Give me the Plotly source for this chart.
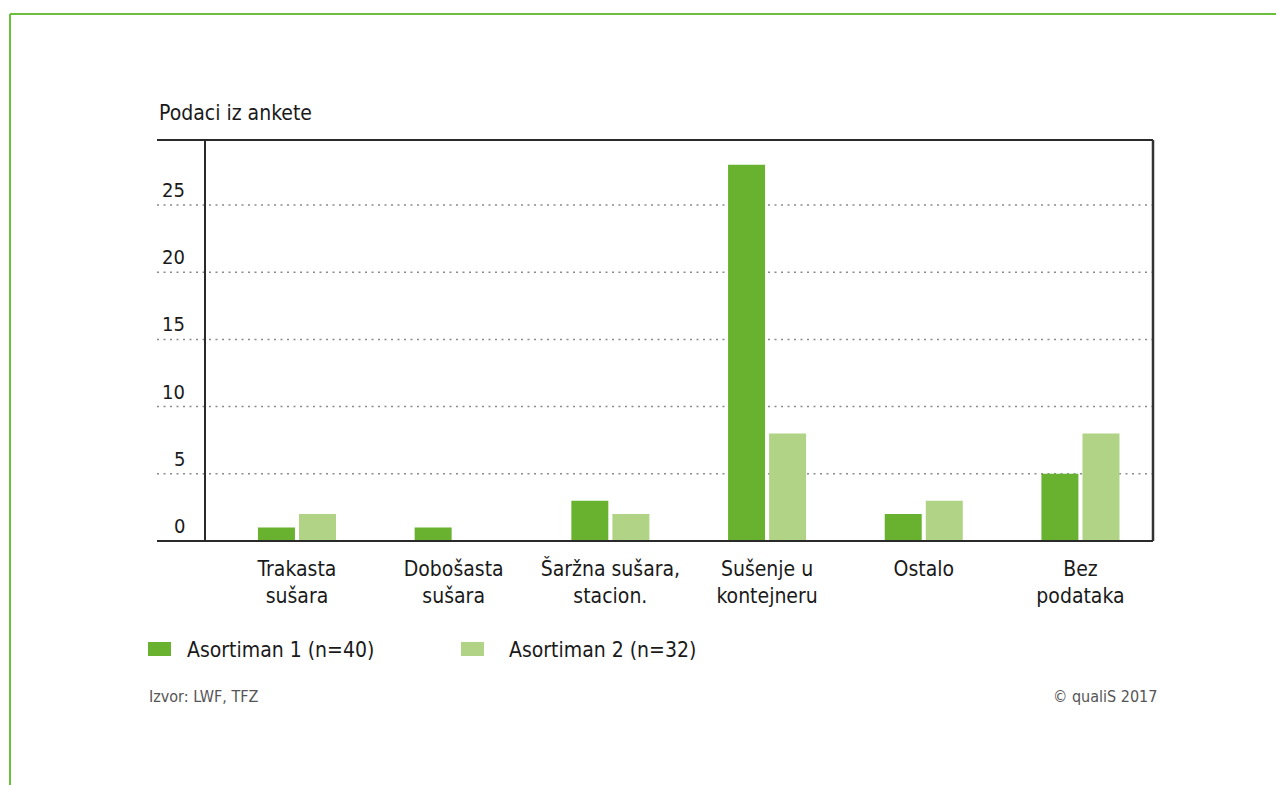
import plotly.graph_objects as go

categories = ["Trakasta<br>sušara", "Dobošasta<br>sušara", "Šaržna sušara,<br>stacion.",
              "Sušenje u<br>kontejneru", "Ostalo", "Bez<br>podataka"]
series_names = ["Asortiman 1 (n=40)", "Asortiman 2 (n=32)"]
asortiman_1 = [1, 1, 3, 28, 2, 5]
asortiman_2 = [2, 0, 2, 8, 3, 8]
y_ticks = [0, 5, 10, 15, 20, 25]
title_text = "Podaci iz ankete"
source_text = "Izvor: LWF, TFZ"
copyright_text = "© qualiS 2017"

# page offset from default body margin
OFF = 8
W, H = 1284 - OFF, 785 - OFF
# plot area in screen pixels
X0, X1, Y0, Y1 = 205, 1153, 140, 541
ML, MR, MT, MB = X0 - OFF, (1284 - X1), Y0 - OFF, (785 - Y1)
PW, PH = X1 - X0, Y1 - Y0

def px(x):
    return (x - X0) / PW

def py(y):
    return (Y1 - y) / PH

FONT = "Liberation Sans Narrow, DejaVu Sans Condensed, Arial Narrow, sans-serif"
C1, C2 = "#68b22f", "#b1d385"

xpos = list(range(len(categories)))
fig = go.Figure()
fig.add_trace(go.Bar(x=xpos, y=asortiman_1, name=series_names[0], marker_color=C1,
                     width=0.236, offset=-0.249, marker_line_width=0))
fig.add_trace(go.Bar(x=xpos, y=asortiman_2, name=series_names[1], marker_color=C2,
                     width=0.236, offset=0.013, marker_line_width=0))

shapes = []
ann = []
for t in y_ticks[1:]:
    shapes.append(dict(type="line", xref="paper", yref="y", x0=px(157), x1=1, y0=t, y1=t,
                       line=dict(color="#8a8a8a", width=1.5, dash="2px,4.5px"), layer="below"))
for t in y_ticks:
    ann.append(dict(xref="paper", yref="y", x=px(187), y=t, text=str(t), showarrow=False,
                    xanchor="right", yanchor="bottom", yshift=1,
                    font=dict(family=FONT, size=20, color="#1a1a1a")))
shapes.append(dict(type="line", xref="paper", yref="paper", x0=px(157), x1=1, y0=1, y1=1,
                   line=dict(color="#2a2a2a", width=2)))
shapes.append(dict(type="line", xref="paper", yref="paper", x0=px(157), x1=1, y0=0, y1=0,
                   line=dict(color="#2a2a2a", width=2)))
shapes.append(dict(type="line", xref="paper", yref="paper", x0=0, x1=0, y0=0, y1=1,
                   line=dict(color="#2a2a2a", width=2)))
shapes.append(dict(type="line", xref="paper", yref="paper", x0=1, x1=1, y0=0, y1=1,
                   line=dict(color="#333333", width=2.5)))
# green frame
shapes.append(dict(type="line", xref="paper", yref="paper", x0=px(10), x1=px(1300), y0=py(14), y1=py(14),
                   line=dict(color="#6cbf3c", width=2)))
shapes.append(dict(type="line", xref="paper", yref="paper", x0=px(10), x1=px(10), y0=py(14), y1=py(800),
                   line=dict(color="#6cbf3c", width=2)))
# legend
for name, col, lx, tx in [(series_names[0], C1, 148, 185), (series_names[1], C2, 461, 507)]:
    shapes.append(dict(type="rect", xref="paper", yref="paper", x0=px(lx), x1=px(lx + 23),
                       y0=py(656), y1=py(642), fillcolor=col, line=dict(width=0)))
    ann.append(dict(xref="paper", yref="paper", x=px(tx), y=py(650), text=name, showarrow=False,
                    xanchor="left", yanchor="middle", font=dict(family=FONT, size=21, color="#1a1a1a")))
ann.append(dict(xref="paper", yref="paper", x=px(157), y=py(113), text=title_text, showarrow=False,
                xanchor="left", yanchor="middle", font=dict(family=FONT, size=21, color="#1a1a1a")))
ann.append(dict(xref="paper", yref="paper", x=px(147), y=py(696), text=source_text, showarrow=False,
                xanchor="left", yanchor="middle", font=dict(family=FONT, size=16, color="#555555")))
ann.append(dict(xref="paper", yref="paper", x=px(1159), y=py(696), text=copyright_text, showarrow=False,
                xanchor="right", yanchor="middle", font=dict(family=FONT, size=16, color="#555555")))

fig.update_layout(
    width=W, height=H, margin=dict(l=ML, r=MR, t=MT, b=MB),
    paper_bgcolor="white", plot_bgcolor="white", showlegend=False,
    shapes=shapes, annotations=ann,
    xaxis=dict(range=[-0.587, 5.463], tickvals=xpos, ticktext=categories, showgrid=False,
               zeroline=False, showline=False, ticks="", ticklabelstandoff=13,
               tickfont=dict(family=FONT, size=21, color="#1a1a1a")),
    yaxis=dict(range=[0, PH / 13.44], showgrid=False, zeroline=False, showline=False,
               showticklabels=False, ticks=""),
)
fig.write_html("out.html")
